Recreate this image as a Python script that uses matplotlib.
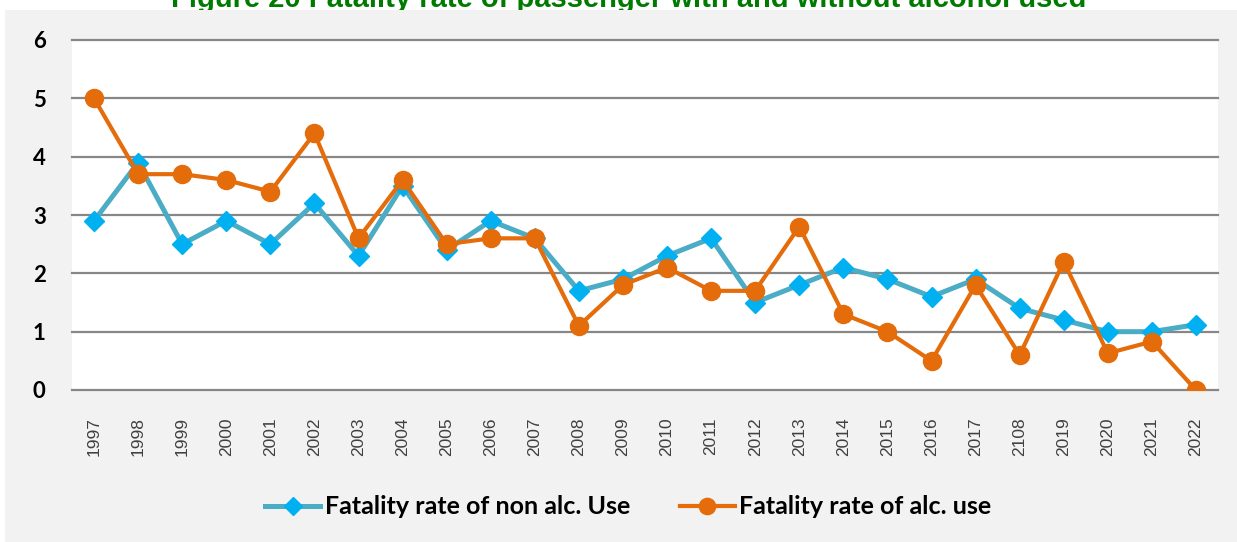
import matplotlib.pyplot as plt
from matplotlib.patches import Rectangle

# data
years = ["1997", "1998", "1999", "2000", "2001", "2002", "2003", "2004", "2005",
         "2006", "2007", "2008", "2009", "2010", "2011", "2012", "2013", "2014",
         "2015", "2016", "2017", "2108", "2019", "2020", "2021", "2022"]
non_alc = [2.9, 3.9, 2.5, 2.9, 2.5, 3.2, 2.3, 3.5, 2.4, 2.9, 2.6, 1.7, 1.9,
           2.3, 2.6, 1.5, 1.8, 2.1, 1.9, 1.6, 1.9, 1.4, 1.2, 1.0, 1.0, 1.12]
alc = [5.0, 3.7, 3.7, 3.6, 3.4, 4.4, 2.6, 3.6, 2.5, 2.6, 2.6, 1.1, 1.8,
       2.1, 1.7, 1.7, 2.8, 1.3, 1.0, 0.5, 1.8, 0.6, 2.2, 0.63, 0.83, 0.0]

fig = plt.figure(figsize=(12.37, 5.42), dpi=100, facecolor="white")

# gray chart area background (title sits above it, partly hidden)
fig.patches.append(Rectangle((5 / 1237, 0), 1, 1 - 10 / 542, transform=fig.transFigure,
                             facecolor="#f2f2f2", edgecolor="none", zorder=-1))
fig.text(0.508, 1 - 7 / 542, "Figure 20 Fatality rate of passenger with and without alcohol used",
         ha="center", va="baseline", fontsize=21, fontweight="bold",
         color="#007a00", family="Liberation Sans", zorder=-2)

ax = fig.add_axes([72 / 1237, 1 - 390 / 542, (1218 - 72) / 1237, 350 / 542])
ax.set_facecolor("white")

x = range(len(years))
ax.plot(x, non_alc, color="#4bacc6", lw=3.6, marker="D", markersize=10,
        markerfacecolor="#00b0f0", markeredgecolor="#00b0f0",
        label="Fatality rate of non alc. Use", zorder=3)
ax.plot(x, alc, color="#e46c0a", lw=3.0, marker="o", markersize=13,
        markerfacecolor="#e46c0a", markeredgecolor="#e46c0a",
        label="Fatality rate of alc. use", zorder=4)

ax.set_xlim(-0.5, len(years) - 0.5)
ax.set_ylim(0, 6)
ax.set_yticks(range(0, 7))
ax.set_xticks(list(x))
ax.set_xticklabels(years, rotation=90, fontsize=12.5, family="Liberation Sans", color="#404040")
for lab in ax.get_yticklabels():
    lab.set_fontfamily("Lato")
    lab.set_fontweight("bold")
    lab.set_fontsize(16)
ax.tick_params(axis="both", length=0)
ax.tick_params(axis="y", pad=19)
ax.tick_params(axis="x", pad=19.5)

ax.grid(axis="y", color="#878787", lw=1.6, clip_on=False)
ax.set_axisbelow(True)
for s in ax.spines.values():
    s.set_visible(False)

leg = fig.legend(loc="center", bbox_to_anchor=(0.508, 1 - 507 / 542), ncol=2, frameon=False,
                 handlelength=2.2, columnspacing=2.0, handletextpad=0.17, markerscale=0.9,
                 prop={"family": "Lato", "weight": "bold", "size": 18})

plt.savefig("out.png", dpi=100, facecolor=fig.get_facecolor())
